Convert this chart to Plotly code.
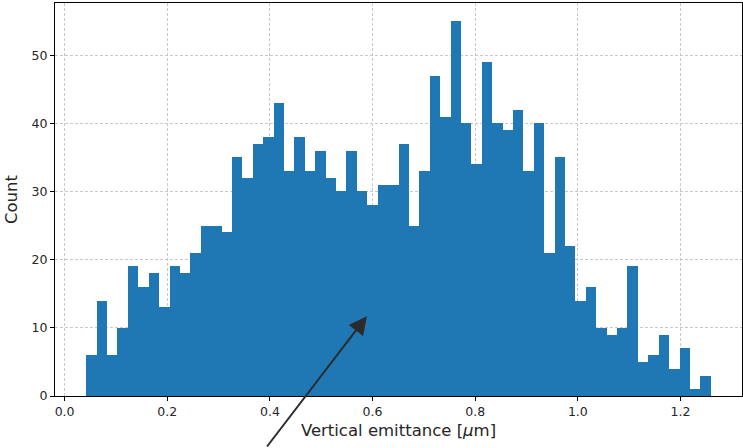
import plotly.graph_objects as go

# Histogram of vertical emittance: 60 equal-width bins
bin_start = 0.0422
bin_width = 0.02028
counts = [6, 14, 6, 10, 19, 16, 18, 13, 19, 18,
          21, 25, 25, 24, 35, 32, 37, 38, 43, 33,
          38, 33, 36, 32, 30, 36, 30, 28, 31, 31,
          37, 25, 33, 47, 41, 55, 40, 34, 49, 40,
          39, 42, 33, 40, 21, 35, 22, 14, 16, 10,
          9, 10, 19, 5, 6, 9, 4, 7, 1, 3]
x_ticks = [0.0, 0.2, 0.4, 0.6, 0.8, 1.0, 1.2]
y_ticks = [0, 10, 20, 30, 40, 50]

# arrow pointing into the distribution
arrow_x = 0.589
arrow_y = 11.7

centers = [bin_start + (i + 0.5) * bin_width for i in range(len(counts))]

fig = go.Figure(go.Bar(
    x=centers,
    y=counts,
    width=bin_width,
    marker=dict(color="#1f77b4", line=dict(width=0)),
))

axis_common = dict(
    showline=True, linecolor="black", linewidth=1, mirror=True,
    ticks="outside", ticklen=4, tickcolor="black", tickwidth=1,
    showgrid=True, gridcolor="#c8c8c8", gridwidth=0.8, griddash="3px,2px",
    zeroline=False, layer="above traces",
    tickfont=dict(family="DejaVu Sans", size=12.5, color="#262626"),
    title_font=dict(family="DejaVu Sans", size=16.5, color="#262626"),
)

fig.update_xaxes(
    range=[-0.0187, 1.3199], tickvals=x_ticks,
    ticktext=[f"{v:.1f}" for v in x_ticks],
    title_text="Vertical emittance [<i>μ</i>m]", title_standoff=6,
    **axis_common,
)
fig.update_yaxes(
    range=[0, 57.65], tickvals=y_ticks,
    title_text="Count", title_standoff=9,
    **axis_common,
)

fig.add_annotation(
    x=arrow_x, y=arrow_y, xref="x", yref="y",
    ax=-101, ay=135, axref="pixel", ayref="pixel",
    text="", showarrow=True,
    arrowhead=2, arrowsize=1.8, arrowwidth=2, arrowcolor="#2b2b2b",
)

fig.update_layout(
    width=743, height=448,
    margin=dict(l=55, r=1, t=3, b=52),
    paper_bgcolor="white", plot_bgcolor="white",
    bargap=0, showlegend=False,
)

fig.write_html("out.html")
